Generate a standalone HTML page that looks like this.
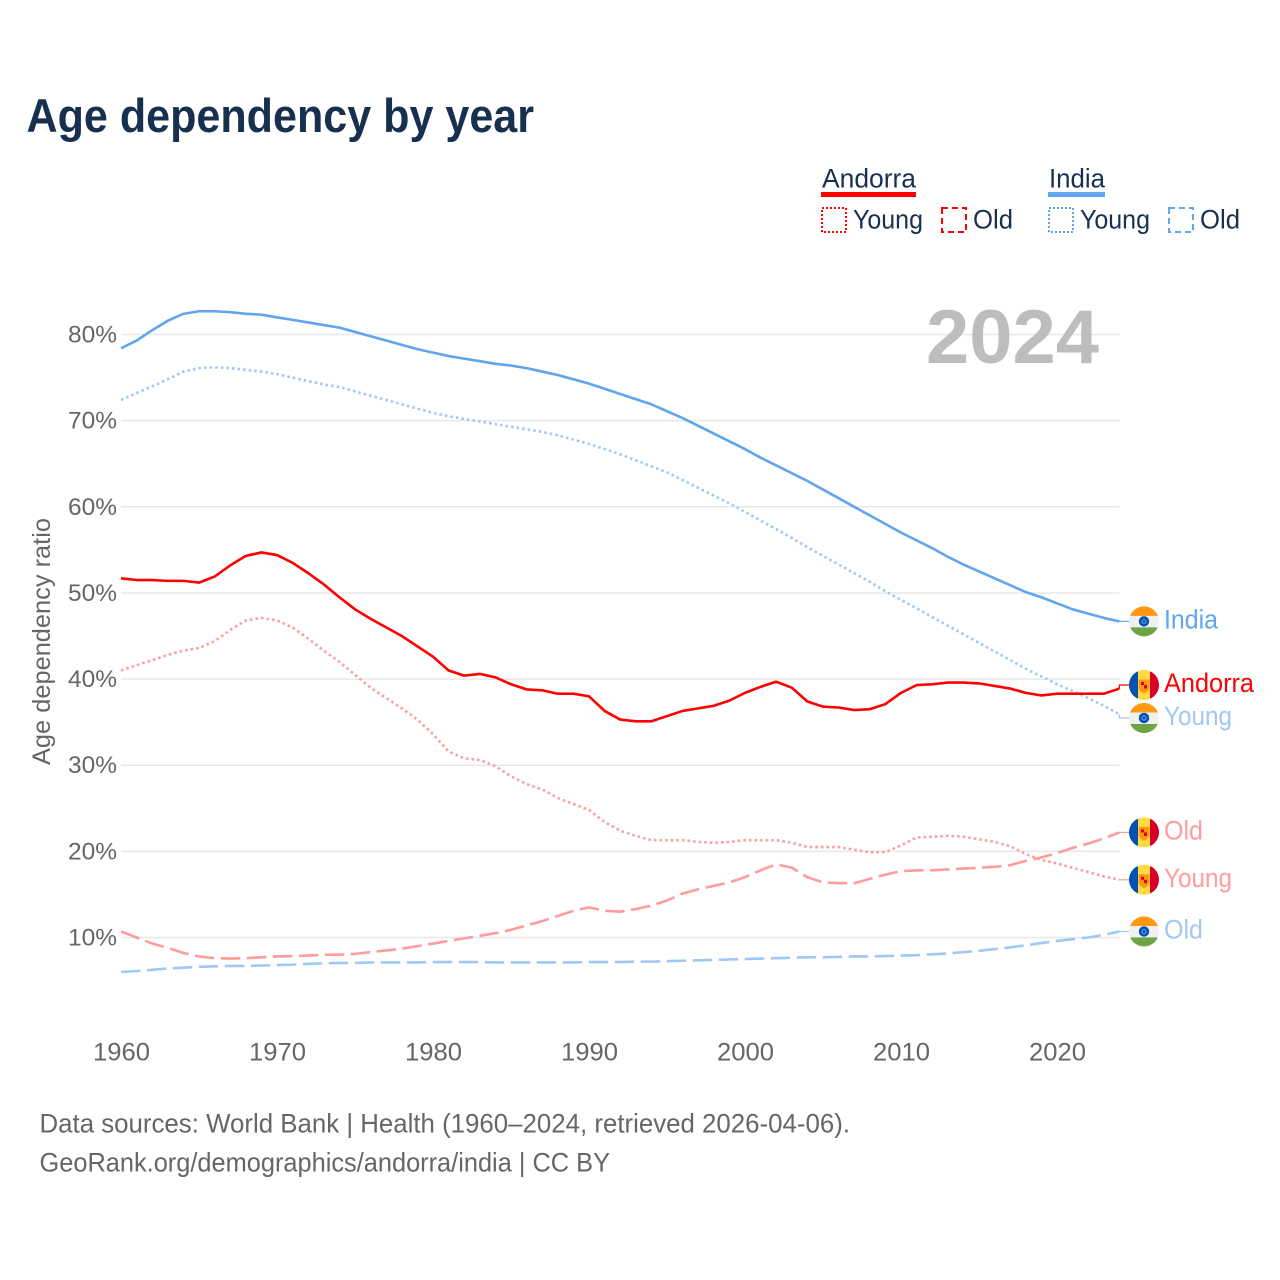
<!DOCTYPE html>
<html lang="en">
<head>
<meta charset="utf-8">
<title>Age dependency by year</title>
<style>
html,body{margin:0;padding:0;background:#fff;width:1280px;height:1280px;overflow:hidden}
svg{display:block}
text{font-family:"Liberation Sans",sans-serif}
</style>
</head>
<body>
<svg id="chart" xmlns="http://www.w3.org/2000/svg" width="1280" height="1280" viewBox="0 0 1280 1280">
  <defs>
    <clipPath id="flag-clip"><circle cx="0" cy="0" r="15"></circle></clipPath>
  </defs>
  <rect x="0" y="0" width="1280" height="1280" fill="#fff"></rect>
  <text x="26.5" y="132" font-size="47" font-weight="700" fill="#18304f" textLength="507.5" lengthAdjust="spacingAndGlyphs">Age dependency by year</text>

  <g fill="#18304f" font-size="27">
    <g>
      <text x="822" y="187.5" textLength="94" lengthAdjust="spacingAndGlyphs">Andorra</text>
      <rect x="821" y="192" width="95" height="5" fill="#ff0000"></rect>
      <rect x="822" y="208" width="24" height="24" fill="none" stroke="#ff0000" stroke-width="2" stroke-dasharray="2 2"></rect>
      <text x="853" y="228.5" textLength="70" lengthAdjust="spacingAndGlyphs">Young</text>
      <rect x="942" y="208" width="24" height="24" fill="none" stroke="#ff0000" stroke-width="2" stroke-dasharray="6 4"></rect>
      <text x="973" y="228.5" textLength="40" lengthAdjust="spacingAndGlyphs">Old</text>
    </g>
    <g>
      <text x="1049" y="187.5" textLength="56" lengthAdjust="spacingAndGlyphs">India</text>
      <rect x="1048" y="192" width="57" height="5" fill="#60a5ee"></rect>
      <rect x="1049" y="208" width="24" height="24" fill="none" stroke="#60a5ee" stroke-width="2" stroke-dasharray="2 2"></rect>
      <text x="1080" y="228.5" textLength="70" lengthAdjust="spacingAndGlyphs">Young</text>
      <rect x="1169" y="208" width="24" height="24" fill="none" stroke="#60a5ee" stroke-width="2" stroke-dasharray="6 4"></rect>
      <text x="1200" y="228.5" textLength="40" lengthAdjust="spacingAndGlyphs">Old</text>
    </g>
  </g>

  <g id="grid"></g>
  <text x="926" y="363" font-size="76" font-weight="700" fill="#bdbdbd" textLength="173" lengthAdjust="spacingAndGlyphs">2024</text>
  <g id="y-axis"></g>
  <g id="x-axis"></g>
  <text transform="translate(50,765) rotate(-90)" x="0" y="0" font-size="25" fill="#666666" textLength="247" lengthAdjust="spacingAndGlyphs">Age dependency ratio</text>
  <g id="series"></g>
  <g id="end-labels"></g>

  <g font-size="26.5" fill="#666666">
    <text x="39.5" y="1132.5" textLength="810.5" lengthAdjust="spacingAndGlyphs">Data sources: World Bank | Health (1960–2024, retrieved 2026-04-06).</text>
    <text x="39.5" y="1171.5" textLength="570.5" lengthAdjust="spacingAndGlyphs">GeoRank.org/demographics/andorra/india | CC BY</text>
  </g>
</svg>
<script>
const startYear = 1960;
const xTickYears = [1960, 1970, 1980, 1990, 2000, 2010, 2020];
const yTickValues = [10, 20, 30, 40, 50, 60, 70, 80];

const indiaTotal = [
  78.4,79.3,80.5,81.6,82.4,82.7,82.7,82.6,82.4,82.3,
  82.0,81.7,81.4,81.1,80.8,80.3,79.8,79.3,78.8,78.3,
  77.9,77.5,77.2,76.9,76.6,76.4,76.1,75.7,75.3,74.8,
  74.3,73.7,73.1,72.5,71.9,71.1,70.3,69.4,68.5,67.6,
  66.7,65.7,64.8,63.9,63.0,62.0,61.0,60.0,59.0,58.0,
  57.0,56.1,55.2,54.2,53.3,52.5,51.7,50.9,50.1,49.5,
  48.8,48.1,47.6,47.1,46.7];
const indiaYoung = [
  72.4,73.2,74.0,74.8,75.7,76.1,76.2,76.1,75.9,75.7,
  75.4,75.0,74.6,74.2,73.9,73.4,72.9,72.4,71.9,71.4,
  70.9,70.5,70.2,69.9,69.6,69.3,69.0,68.7,68.3,67.8,
  67.3,66.7,66.1,65.4,64.7,64.0,63.1,62.2,61.3,60.4,
  59.4,58.4,57.4,56.4,55.3,54.3,53.3,52.3,51.3,50.2,
  49.2,48.2,47.2,46.2,45.2,44.2,43.2,42.2,41.2,40.3,
  39.4,38.6,37.8,36.9,35.9];
const indiaOld = [
  6.0,6.1,6.25,6.4,6.5,6.6,6.65,6.7,6.7,6.75,
  6.8,6.85,6.95,7.0,7.05,7.05,7.1,7.1,7.1,7.1,
  7.15,7.15,7.15,7.15,7.1,7.1,7.1,7.1,7.1,7.1,
  7.15,7.15,7.15,7.2,7.2,7.25,7.3,7.35,7.4,7.45,
  7.5,7.55,7.6,7.65,7.7,7.7,7.75,7.8,7.8,7.85,
  7.9,7.95,8.05,8.15,8.3,8.45,8.65,8.85,9.1,9.35,
  9.6,9.8,10.0,10.3,10.7];
const andorraTotal = [
  51.7,51.5,51.5,51.4,51.4,51.2,51.9,53.2,54.3,54.7,
  54.4,53.5,52.3,51.0,49.5,48.1,47.0,46.0,45.0,43.8,
  42.6,41.0,40.4,40.6,40.2,39.4,38.8,38.7,38.3,38.3,
  38.0,36.3,35.3,35.1,35.1,35.7,36.3,36.6,36.9,37.5,
  38.4,39.1,39.7,39.0,37.4,36.8,36.7,36.4,36.5,37.1,
  38.4,39.3,39.4,39.6,39.6,39.5,39.2,38.9,38.4,38.1,
  38.3,38.3,38.3,38.3,38.9];
const andorraYoung = [
  41.0,41.6,42.2,42.8,43.3,43.6,44.4,45.7,46.8,47.1,
  46.8,46.0,44.7,43.3,42.0,40.5,39.0,37.8,36.6,35.3,
  33.6,31.6,30.8,30.6,29.9,28.7,27.8,27.2,26.2,25.5,
  24.8,23.4,22.4,21.8,21.3,21.3,21.3,21.1,21.0,21.1,
  21.3,21.3,21.3,21.0,20.5,20.5,20.5,20.2,19.9,19.9,
  20.7,21.6,21.7,21.8,21.7,21.4,21.1,20.6,19.7,19.0,
  18.6,18.1,17.6,17.1,16.7];
const andorraOld = [
  10.7,10.0,9.3,8.8,8.2,7.8,7.6,7.55,7.6,7.7,
  7.8,7.85,7.9,8.0,8.0,8.1,8.3,8.5,8.7,9.0,
  9.3,9.6,9.9,10.2,10.5,10.9,11.4,11.9,12.5,13.1,
  13.5,13.1,13.0,13.3,13.7,14.3,15.1,15.6,16.0,16.4,
  17.0,17.8,18.5,18.1,17.0,16.4,16.3,16.3,16.8,17.3,
  17.7,17.8,17.8,17.9,18.0,18.1,18.2,18.4,18.9,19.3,
  19.8,20.4,20.9,21.5,22.2];

const seriesList = [
  {key: 'india-total', label: 'India', country: 'india', values: indiaTotal, color: '#60a5ee', text: '#60a5ee', dash: null},
  {key: 'india-young', label: 'Young', country: 'india', values: indiaYoung, color: '#9fc8f4', text: '#a0c8f2', dash: '2.5 3.1'},
  {key: 'india-old', label: 'Old', country: 'india', values: indiaOld, color: '#a0c8f2', text: '#a0c8f2', dash: '19.5 6.5'},
  {key: 'andorra-total', label: 'Andorra', country: 'andorra', values: andorraTotal, color: '#ff0000', text: '#ff0000', dash: null},
  {key: 'andorra-young', label: 'Young', country: 'andorra', values: andorraYoung, color: '#ff9c9c', text: '#ff9c9c', dash: '2.5 3.1'},
  {key: 'andorra-old', label: 'Old', country: 'andorra', values: andorraOld, color: '#ff9c9c', text: '#ff9c9c', dash: '19.5 6.5'}
];

const NS = 'http://www.w3.org/2000/svg';
const xScale = function (year) { return 121 + (year - startYear) * 15.6; };
const yScale = function (value) { return 937.5 - (value - 10) * 8.614; };
const plotRight = xScale(2024);

function make(tag, attrs, parent) {
  const el = document.createElementNS(NS, tag);
  Object.keys(attrs).forEach(function (k) { el.setAttribute(k, attrs[k]); });
  parent.appendChild(el);
  return el;
}

const grid = document.getElementById('grid');
const yAxis = document.getElementById('y-axis');
yTickValues.forEach(function (v) {
  const line = make('line', {x1: 121, x2: plotRight, y1: yScale(v), y2: yScale(v), stroke: '#e8e8e8', 'stroke-width': 1.5}, grid);
  
  
  const label = make('text', {x: 117, y: yScale(v) + 8, 'font-size': 24.5, fill: '#666666', 'text-anchor': 'end', textLength: 49, lengthAdjust: 'spacingAndGlyphs'}, yAxis);
  label.textContent = v + '%';
  
  
});

const xAxis = document.getElementById('x-axis');
xTickYears.forEach(function (year) {
  const label = make('text', {x: xScale(year) + 0.5, y: 1060.5, 'font-size': 25, fill: '#666666', 'text-anchor': 'middle', textLength: 57, lengthAdjust: 'spacingAndGlyphs'}, xAxis);
  label.textContent = year;
  
  
});

const seriesGroup = document.getElementById('series');
seriesList.forEach(function (s) {
  const d = s.values.map(function (v, i) {
    return (i ? 'L' : 'M') + xScale(startYear + i).toFixed(2) + ' ' + yScale(v).toFixed(2);
  }).join(' ');
  const attrs = {d: d, fill: 'none', stroke: s.color, 'stroke-width': 2.6, 'stroke-linejoin': 'round'};
  if (s.dash) attrs['stroke-dasharray'] = s.dash;
  const path = make('path', attrs, seriesGroup);
  
  
});

/* Dodge end labels that would overlap: a minimum gap, pushing both neighbours apart. */
const minGap = 33;
const placed = seriesList.map(function (s) {
  const natural = yScale(s.values[s.values.length - 1]);
  return {s: s, natural: natural, y: natural};
}).sort(function (a, b) { return a.natural - b.natural; });
for (let i = 1; i < placed.length; i++) {
  const gap = placed[i].y - placed[i - 1].y;
  if (gap < minGap) {
    const push = (minGap - gap) / 2;
    placed[i - 1].y -= push;
    placed[i].y += push;
  }
}

function drawFlag(parent, country, cy) {
  const g = make('g', {transform: 'translate(1144,' + cy.toFixed(2) + ')', 'clip-path': 'url(#flag-clip)'}, parent);
  
  
  if (country === 'india') {
    make('rect', {x: -15, y: -15, width: 30, height: 30, fill: '#f0f0f0'}, g);
    make('rect', {x: -15, y: -16, width: 30, height: 10.5, fill: '#ff9811'}, g);
    make('rect', {x: -15, y: 6, width: 30, height: 10, fill: '#6da544'}, g);
    make('circle', {cx: 0, cy: 0, r: 5.2, fill: '#0052b4'}, g);
    make('circle', {cx: 0, cy: 0, r: 2.8, fill: '#4a84cc'}, g);
    make('circle', {cx: 0, cy: 0, r: 1.2, fill: '#0052b4'}, g);
  } else {
    make('rect', {x: -15, y: -15, width: 30, height: 30, fill: '#ffda44'}, g);
    make('rect', {x: -15, y: -15, width: 9, height: 30, fill: '#0052b4'}, g);
    make('rect', {x: 6, y: -15, width: 9, height: 30, fill: '#d80027'}, g);
    make('path', {d: 'M-5.5 -5.5 H5.5 V2 Q5.5 6 0 8.5 Q-5.5 6 -5.5 2 Z', fill: '#ff9811'}, g);
    make('rect', {x: -3, y: -3, width: 3, height: 3, fill: '#d80027'}, g);
    make('rect', {x: 0, y: 0, width: 3, height: 3.5, fill: '#d80027'}, g);
  }
}

const endLabels = document.getElementById('end-labels');
placed.forEach(function (p) {
  const s = p.s;
  const leader = make('path', {d: 'M' + plotRight + ' ' + p.natural.toFixed(2) + ' V' + p.y.toFixed(2) + ' H1129', fill: 'none', stroke: s.color, 'stroke-width': 1.2}, endLabels);
  
  
  drawFlag(endLabels, s.country, p.y);
  const label = make('text', {x: 1164, y: p.y + 7, 'font-size': 27, fill: s.text}, endLabels);
  label.textContent = s.label;
  label.setAttribute('textLength', s.label === 'India' ? 54 : s.label === 'Andorra' ? 90 : s.label === 'Young' ? 68 : 39);
  label.setAttribute('lengthAdjust', 'spacingAndGlyphs');
  
  
});
</script>
</body>
</html>
